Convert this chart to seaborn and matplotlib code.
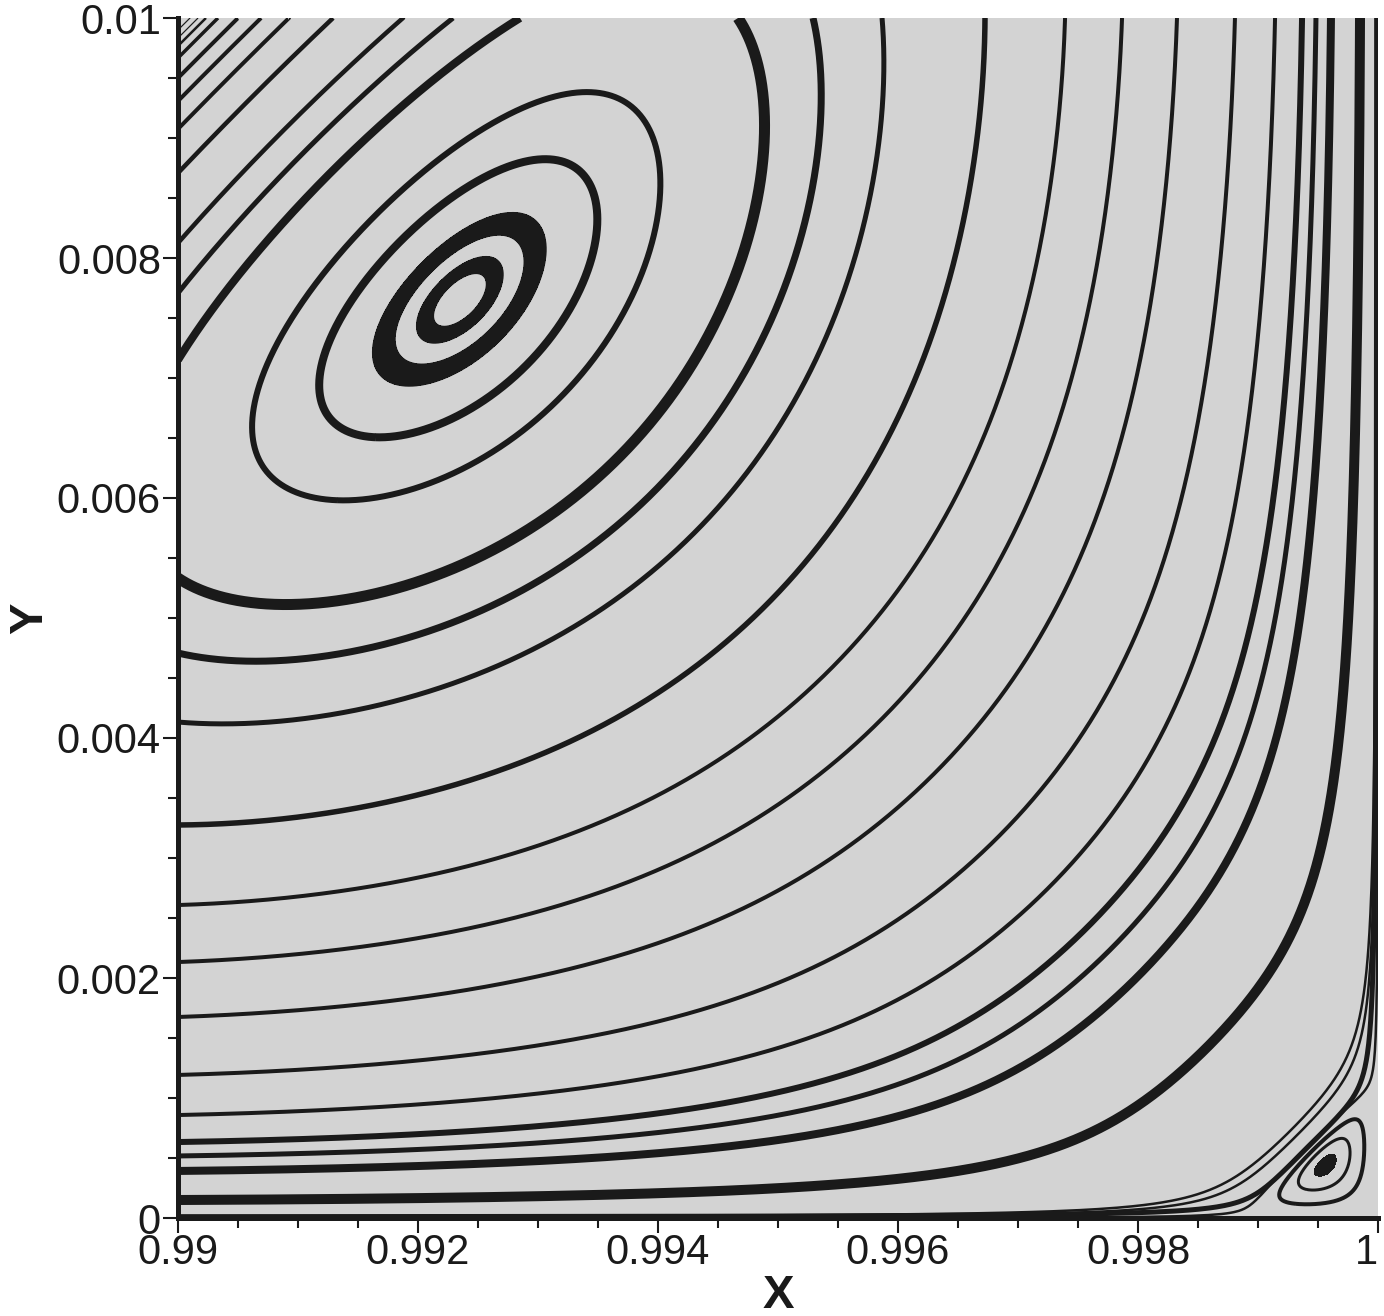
import numpy as np
import matplotlib
matplotlib.use("Agg")
import matplotlib.pyplot as plt
from matplotlib.ticker import FixedLocator, FixedFormatter, MultipleLocator
import contourpy
import seaborn as sns

# ---------------- values ----------------
x_ticks = [0.99, 0.992, 0.994, 0.996, 0.998, 1.0]
x_tick_labels = ["0.99", "0.992", "0.994", "0.996", "0.998", "1"]
y_ticks = [0.0, 0.002, 0.004, 0.006, 0.008, 0.01]
y_tick_labels = ["0", "0.002", "0.004", "0.006", "0.008", "0.01"]

corner = (1.0, 0.0)                   # wall corner (right wall x=1, bottom wall y=0)
vortex_center = (0.99234, 0.00764)    # centre of the large eddy
corner_eddy_center = (0.99955, 0.000425)

# streamlines of the large eddy crossing the left edge x = 0.99 (y values)
upper_left_y = [0.0099, 0.009833, 0.009767, 0.009667, 0.0095, 0.009308,
                0.009075, 0.008708, 0.008125, 0.007708, 0.00715]
lower_left_y = [0.005333, 0.004708, 0.004133, 0.003275, 0.002608, 0.002133,
                0.001675, 0.001192, 0.000858, 0.000633, 0.000517, 0.000392, 0.00015]

# closed rings round the large eddy: x where they cross the row y = ring_row_y (left side)
ring_row_y = 0.00764
ring_x = [0.991042, 0.991442]
band_x = [(0.991775, 0.991917), (0.992058, 0.992167)]   # thick black bands (outer, inner)

# thin streamlines leaving the right wall (y where they detach)
wall_detach_y = [0.004833, 0.003675, 0.001425]

# small corner eddy: rings crossing the row y = corner_row_y (left x, right x)
corner_row_y = 0.000425
corner_ring_x = [(0.999208, 0.999975), (0.999325, 0.999875), (0.999408, 0.999767)]
corner_core_x = (0.999475, 0.999625)

# ---------------- line styles (pixels) ----------------
upper_w = [1.2, 1.2, 2.5, 3.5, 4, 4, 4, 4.5, 4.5, 5, 8]
lower_w = [11, 7, 5, 5.5, 4, 4, 4, 4, 4, 6, 5, 8, 10]
ring_w = [6, 8]
wall_w = [2.5, 2.5, 2.5]
corner_w = [5, 4, 3]
PX = 0.72  # points per pixel at dpi 100

# ---------------- corner-eddy stream function (Moffatt mode) ----------------
L = 0.01
alpha = np.pi / 4
K_NEAR, R0, R1 = 2.5, 0.3, 0.08   # smooth radial weighting towards the corner


def eigen():
    z = 2.74 + 1.12j
    for _ in range(60):
        F = np.sin(z * np.pi / 2) + z
        dF = np.pi / 2 * np.cos(z * np.pi / 2) + 1
        z = z - F / dF
    return z + 1


lam = eigen()
p, q = lam.real, lam.imag
C = np.cos(lam * alpha) / np.cos((lam - 2) * alpha)
f0 = 1 - C


def weight(r):
    return ((r ** 2 + R1 ** 2) / (r ** 2 + R0 ** 2)) ** (K_NEAR / 2)


def dlogw(r):
    return K_NEAR * r ** 2 * (R0 ** 2 - R1 ** 2) / ((r ** 2 + R1 ** 2) * (r ** 2 + R0 ** 2))


rc = np.hypot(corner[0] - vortex_center[0], vortex_center[1] - corner[1]) / L
phi = np.arctan((p + dlogw(rc)) / q) - q * np.log(rc)
rs = np.hypot(corner[0] - corner_eddy_center[0], corner_eddy_center[1] - corner[1]) / L
phi_c = np.arctan(p / q) - np.pi - q * np.log(rs)


def polar(x, y):
    a = (corner[0] - np.asarray(x, float)) / L
    b = (np.asarray(y, float) - corner[1]) / L
    r = np.maximum(np.hypot(a, b), 1e-9)
    th = np.arctan2(b, a) - alpha
    return r, th


def mode(x, y, ph):
    r, th = polar(x, y)
    f = np.cos(lam * th) - C * np.cos((lam - 2) * th)
    return np.real(np.exp(1j * ph) * np.exp(lam * np.log(r)) * f / f0)


def psi(x, y):
    r, _ = polar(x, y)
    return weight(r) * mode(x, y, phi)


def psi_c(x, y):
    return mode(x, y, phi_c)


xs = np.linspace(0.99, 1.0, 1601)
ys = np.linspace(0.0, 0.01, 1601)
X, Y = np.meshgrid(xs, ys)
P = psi(X, Y)
Pc = psi_c(X, Y)
Rg, _ = polar(X, Y)
gen = contourpy.contour_generator(X, Y, P, line_type="Separate")
gen_c = contourpy.contour_generator(X, Y, Pc, line_type="Separate")

# ---------------- figure ----------------
sns.set_theme(style="ticks")
plt.rcParams["font.family"] = ["Liberation Sans", "DejaVu Sans"]

fig = plt.figure(figsize=(13.84, 13.16), dpi=100)
ax = fig.add_axes([178 / 1384, 1 - 1218 / 1316, 1200 / 1384, 1200 / 1316])
ax.set_facecolor("#d3d3d3")


def arc(g, level, sx, sy, w):
    """draw only the branch of the iso-line that passes the seed point"""
    segs = [s for s in g.lines(level) if len(s) > 1]
    if not segs:
        return
    d = [np.min(np.hypot(s[:, 0] - sx, s[:, 1] - sy)) for s in segs]
    s = segs[int(np.argmin(d))]
    ax.plot(s[:, 0], s[:, 1], color="k", lw=w * PX, solid_joinstyle="round",
            solid_capstyle="butt", zorder=2)


for yv, w in zip(upper_left_y, upper_w):
    arc(gen, float(psi(0.99, yv)), 0.99, yv, w)
for yv, w in zip(lower_left_y, lower_w):
    arc(gen, float(psi(0.99, yv)), 0.99, yv, w)
for xv, w in zip(ring_x, ring_w):
    arc(gen, float(psi(xv, ring_row_y)), xv, ring_row_y, w)
for xo, xi in band_x:
    lo, hi = sorted([float(psi(xo, ring_row_y)), float(psi(xi, ring_row_y))])
    ax.contourf(X, Y, np.ma.masked_where(Rg < 0.3, P), levels=[lo, hi], colors="k", zorder=2)
    arc(gen, float(psi(xo, ring_row_y)), xo, ring_row_y, 1.5)
    arc(gen, float(psi(xi, ring_row_y)), xi, ring_row_y, 1.5)
gap = 2.4e-5
for yv, w in zip(wall_detach_y, wall_w):
    arc(gen, float(psi(corner[0] - gap, yv)), corner[0] - gap, yv, w)
for (xl, xr), w in zip(corner_ring_x, corner_w):
    lv = 0.5 * (float(psi_c(xl, corner_row_y)) + float(psi_c(xr, corner_row_y)))
    arc(gen_c, lv, xl, corner_row_y, w)
core = 0.5 * (float(psi_c(corner_core_x[0], corner_row_y)) + float(psi_c(corner_core_x[1], corner_row_y)))
Pm = np.ma.masked_where(Rg > 0.15, Pc)
ax.contourf(X, Y, Pm, levels=[float(Pm.min()) - 1, core], colors="k", zorder=2)

# ---------------- axes ----------------
ax.set_xlim(0.99, 1.0)
ax.set_ylim(0.0, 0.01)
sns.despine(ax=ax)
for s in ("left", "bottom"):
    ax.spines[s].set_linewidth(3.6)
    ax.spines[s].set_color("k")
    ax.spines[s].set_zorder(5)

ax.xaxis.set_major_locator(FixedLocator(x_ticks))
ax.xaxis.set_major_formatter(FixedFormatter(x_tick_labels))
ax.yaxis.set_major_locator(FixedLocator(y_ticks))
ax.yaxis.set_major_formatter(FixedFormatter(y_tick_labels))
ax.xaxis.set_minor_locator(MultipleLocator(0.0005))
ax.yaxis.set_minor_locator(MultipleLocator(0.0005))
ax.tick_params(which="major", direction="out", length=10.8, width=1.5,
               color="k", labelsize=30, labelcolor="k")
ax.tick_params(axis="x", which="major", pad=0)
ax.tick_params(axis="y", which="major", pad=1.5)
ax.tick_params(which="minor", direction="out", length=7.2, width=1.5, color="k")
ax.get_xticklabels()[-1].set_horizontalalignment("right")

ax.set_xlabel("X", fontsize=34, fontweight="bold", labelpad=1, color="k")
ax.set_ylabel("Y", fontsize=34, fontweight="bold", labelpad=3, color="k")
ax.grid(False)

fig.savefig("out.png", dpi=100)
